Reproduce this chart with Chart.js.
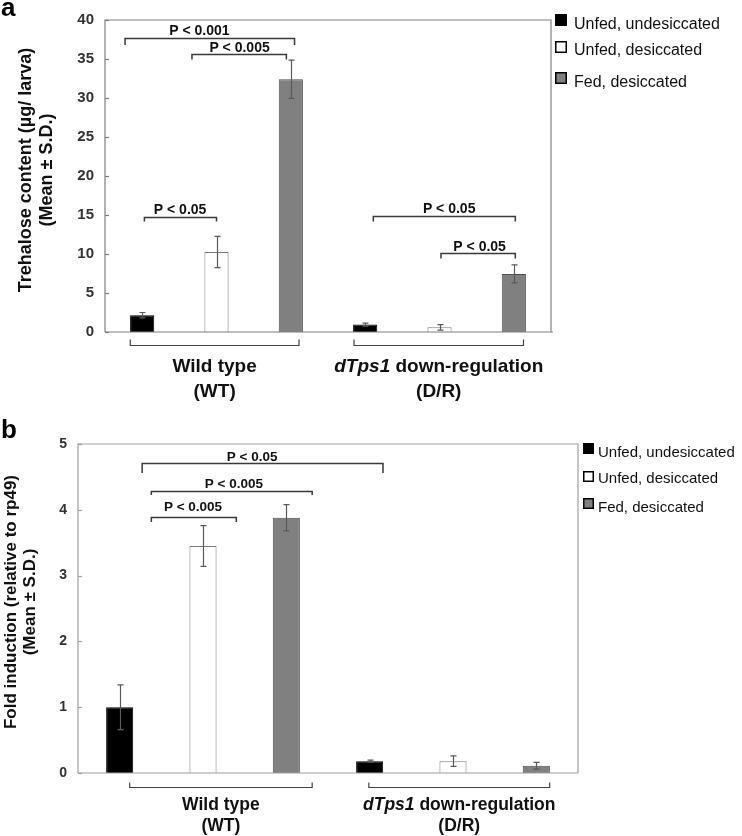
<!DOCTYPE html>
<html lang="en">
<head>
<meta charset="utf-8">
<title>Trehalose content and dTps1 fold induction</title>
<script src="https://cdn.jsdelivr.net/npm/chart.js@4.4.1/dist/chart.umd.min.js"></script>
<style>
    html, body { margin: 0; padding: 0; background: #fff; }
    .figure { width: 742px; height: 836px; }
    canvas { display: block; }
</style>
</head>
<body>
<div class="figure">
    <canvas id="chart-a" width="742" height="410"></canvas>
    <canvas id="chart-b" width="742" height="426"></canvas>
</div>
<script>
// Genotypes and conditions (three bars per genotype)
const groups = ["Wild type", "dTps1 down-regulation"];
const groupTags = ["(WT)", "(D/R)"];
const conditions = ["Unfed, undesiccated", "Unfed, desiccated", "Fed, desiccated"];

// Panel a: trehalose content (µg/larva), order WT x3 then D/R x3
const trehaloseMean = [2.15, 10.25, 32.4, 0.95, 0.6, 7.45];
const trehaloseSD = [0.35, 2.0, 2.45, 0.2, 0.35, 1.15];
const trehaloseTicks = [0, 5, 10, 15, 20, 25, 30, 35, 40];

// Panel b: fold induction relative to rp49
const foldMean = [1.0, 3.45, 3.88, 0.18, 0.18, 0.11];
const foldSD = [0.34, 0.31, 0.2, 0.015, 0.08, 0.05];
const foldTicks = [0, 1, 2, 3, 4, 5];

const FONT = "'Liberation Sans', Arial, Helvetica, sans-serif";
const fillColors = ["#000000", "#ffffff", "#808080"];
const borderColors = ["#000000", "#7a7a7a", "#505050"];

// Category labels: one slot per bar
const slots = [];
groupTags.forEach((tag) => {
    conditions.forEach((c) => slots.push(tag + " " + c));
});

// Draws frame, error bars, brackets, legend and titles
const figureDecor = {
    id: "figureDecor",
    afterDatasetsDraw(chart, args, opts) {
        const ctx = chart.ctx;
        const area = chart.chartArea;
        const xs = chart.scales.x;
        const ys = chart.scales.y;
        ctx.save();

        // plot frame
        ctx.strokeStyle = opts.frameColor;
        ctx.lineWidth = 1.2;
        ctx.beginPath();
        ctx.moveTo(area.left, area.bottom);
        ctx.lineTo(area.left, area.top);
        ctx.lineTo(area.right, area.top);
        ctx.lineTo(area.right, area.bottom);
        ctx.moveTo(area.left, area.bottom);
        ctx.lineTo(area.right + opts.axisOverhang, area.bottom);
        ctx.stroke();

        // inward tick marks
        ys.ticks.forEach((t) => {
            const py = Math.round(ys.getPixelForValue(t.value)) + 0.5;
            ctx.beginPath();
            ctx.moveTo(area.left, py);
            ctx.lineTo(area.left + 4, py);
            ctx.stroke();
        });

        // error bars
        ctx.strokeStyle = "#5a5a5a";
        ctx.lineWidth = 1.2;
        chart.data.datasets.forEach((ds, d) => {
            const meta = chart.getDatasetMeta(d);
            meta.data.forEach((bar, i) => {
                const v = ds.data[i];
                if (v === null || v === undefined) return;
                const err = ds.errors[i];
                const top = ys.getPixelForValue(v + err);
                const bot = ys.getPixelForValue(Math.max(0, v - err));
                const bx = Math.round(bar.x) + 0.5;
                ctx.beginPath();
                ctx.moveTo(bx, top);
                ctx.lineTo(bx, bot);
                ctx.moveTo(bx - 3, top);
                ctx.lineTo(bx + 3, top);
                ctx.moveTo(bx - 3, bot);
                ctx.lineTo(bx + 3, bot);
                ctx.stroke();
            });
        });

        // significance brackets
        ctx.strokeStyle = "#3a3a3a";
        ctx.lineWidth = 1.5;
        ctx.fillStyle = "#111";
        ctx.font = "bold " + opts.pFont + "px " + FONT;
        ctx.textAlign = "center";
        ctx.textBaseline = "alphabetic";
        opts.brackets.forEach((b) => {
            const xa = xs.getPixelForValue(b.from);
            const xb = xs.getPixelForValue(b.to);
            const yy = Math.round(ys.getPixelForValue(b.level)) + 0.5;
            ctx.beginPath();
            ctx.moveTo(xa, yy + b.drop);
            ctx.lineTo(xa, yy);
            ctx.lineTo(xb, yy);
            ctx.lineTo(xb, yy + b.drop);
            ctx.stroke();
            ctx.fillText(b.text, xs.getPixelForValue(b.tx), yy - b.gap);
        });

        // genotype brackets under the axis
        ctx.strokeStyle = "#444";
        ctx.lineWidth = 1.2;
        const gy = Math.round(area.bottom + opts.groupOffset) + 0.5;
        opts.groupSpans.forEach((g, gi) => {
            const xa = xs.getPixelForValue(g.from);
            const xb = xs.getPixelForValue(g.to);
            ctx.beginPath();
            ctx.moveTo(xa, gy - opts.groupTick);
            ctx.lineTo(xa, gy);
            ctx.lineTo(xb, gy);
            ctx.lineTo(xb, gy - opts.groupTick);
            ctx.stroke();

            const cx = (xa + xb) / 2;
            const gf = opts.groupFont;
            ctx.fillStyle = "#111";
            if (gi === 0) {
                ctx.font = "bold " + gf + "px " + FONT;
                ctx.textAlign = "center";
                ctx.fillText(groups[0], cx, opts.groupLine1);
            } else {
                // "dTps1" in bold italic, rest bold
                const gene = "dTps1";
                const rest = groups[1].slice(gene.length);
                ctx.font = "italic bold " + gf + "px " + FONT;
                const w1 = ctx.measureText(gene).width;
                ctx.font = "bold " + gf + "px " + FONT;
                const w2 = ctx.measureText(rest).width;
                const start = cx - (w1 + w2) / 2;
                ctx.textAlign = "left";
                ctx.font = "italic bold " + gf + "px " + FONT;
                ctx.fillText(gene, start, opts.groupLine1);
                ctx.font = "bold " + gf + "px " + FONT;
                ctx.fillText(rest, start + w1, opts.groupLine1);
            }
            ctx.font = "bold " + gf + "px " + FONT;
            ctx.textAlign = "center";
            ctx.fillText(groupTags[gi], cx, opts.groupLine2);
        });

        // y axis title, two rotated lines
        ctx.save();
        ctx.translate(0, opts.titleY);
        ctx.rotate(-Math.PI / 2);
        ctx.font = "bold " + opts.titleFont + "px " + FONT;
        ctx.textAlign = "center";
        ctx.textBaseline = "middle";
        ctx.fillStyle = "#111";
        opts.yTitle.forEach((line, i) => {
            ctx.fillText(line, 0, opts.titleX[i]);
        });
        ctx.restore();

        // legend
        const lg = opts.legend;
        ctx.font = lg.font + "px " + FONT;
        ctx.textAlign = "left";
        ctx.textBaseline = "alphabetic";
        conditions.forEach((c, i) => {
            ctx.fillStyle = fillColors[i];
            ctx.fillRect(lg.boxX, lg.boxY[i], lg.box, lg.box);
            ctx.strokeStyle = "#000";
            ctx.lineWidth = 1.5;
            ctx.strokeRect(lg.boxX + 0.75, lg.boxY[i] + 0.75, lg.box - 1.5, lg.box - 1.5);
            ctx.fillStyle = "#111";
            ctx.fillText(c, lg.textX, lg.baseY[i]);
        });

        // panel letter
        ctx.font = "bold 26px " + FONT;
        ctx.fillStyle = "#000";
        ctx.fillText(opts.letter, 1, opts.letterY);

        ctx.restore();
    },
};

function buildPanel(canvasId, mean, sd, ticks, panel) {
    const ctx = document.getElementById(canvasId).getContext("2d");

    // one dataset per condition, each filling only its own slots
    const datasets = conditions.map((c, s) => ({
        label: c,
        data: mean.map((v, i) => (i % 3 === s ? v : null)),
        errors: sd,
        backgroundColor: fillColors[s],
        borderColor: borderColors[s],
        borderWidth: 1,
        grouped: false,
        barPercentage: 0.325,
        categoryPercentage: 1,
    }));

    return new Chart(ctx, {
        type: "bar",
        data: { labels: slots, datasets: datasets },
        options: {
            responsive: false,
            animation: false,
            devicePixelRatio: 1,
            layout: { padding: panel.padding },
            plugins: {
                legend: { display: false },
                tooltip: { enabled: false },
                figureDecor: panel,
            },
            scales: {
                x: { display: false },
                y: {
                    min: ticks[0],
                    max: ticks[ticks.length - 1],
                    afterBuildTicks: (scale) => {
                        scale.ticks = ticks.map((v) => ({ value: v }));
                    },
                    afterFit: (scale) => {
                        scale.width = 30;
                    },
                    grid: { display: false, drawTicks: false },
                    border: { display: false },
                    ticks: {
                        padding: 11,
                        color: "#333",
                        font: { family: FONT, size: panel.tickFont, weight: "bold" },
                    },
                },
            },
        },
        plugins: [figureDecor],
    });
}

document.addEventListener("DOMContentLoaded", function () {
    buildPanel("chart-a", trehaloseMean, trehaloseSD, trehaloseTicks, {
        letter: "a",
        letterY: 16,
        padding: { left: 75, top: 13, right: 191, bottom: 78 },
        frameColor: "#808080",
        axisOverhang: 2,
        tickFont: 15,
        pFont: 14,
        brackets: [
            { text: "P < 0.001", from: -0.23, to: 2.05, level: 37.66, drop: 6.5, tx: 0.77, gap: 4 },
            { text: "P < 0.005", from: 0.67, to: 1.94, level: 35.59, drop: 5, tx: 1.31, gap: 2.5 },
            { text: "P < 0.05", from: 0.03, to: 1.0, level: 14.75, drop: 4, tx: 0.51, gap: 4 },
            { text: "P < 0.05", from: 3.11, to: 5.02, level: 14.875, drop: 5, tx: 4.13, gap: 4 },
            { text: "P < 0.05", from: 4.02, to: 5.02, level: 10.125, drop: 5, tx: 4.54, gap: 3 },
        ],
        groupSpans: [{ from: -0.16, to: 2.11 }, { from: 2.85, to: 5.13 }],
        groupOffset: 13,
        groupTick: 6,
        groupFont: 19,
        groupLine1: 372,
        groupLine2: 396.5,
        yTitle: ["Trehalose content (µg/ larva)", "(Mean ± S.D.)"],
        titleFont: 18,
        titleX: [26, 47],
        titleY: 170,
        legend: { font: 16, box: 12, boxX: 555, boxY: [14, 41, 72], textX: 574, baseY: [29, 55, 87] },
    });

    buildPanel("chart-b", foldMean, foldSD, foldTicks, {
        letter: "b",
        letterY: 28,
        padding: { left: 48, top: 34, right: 164, bottom: 63 },
        frameColor: "#a0a0a0",
        axisOverhang: 0,
        tickFont: 14,
        pFont: 13.5,
        brackets: [
            { text: "P < 0.05", from: 0.27, to: 3.16, level: 4.716, drop: 9.5, tx: 1.59, gap: 3 },
            { text: "P < 0.005", from: 0.38, to: 2.31, level: 4.29, drop: 3.5, tx: 1.37, gap: 4 },
            { text: "P < 0.005", from: 0.38, to: 1.4, level: 3.886, drop: 4.5, tx: 0.88, gap: 7 },
        ],
        groupSpans: [{ from: 0.12, to: 2.31 }, { from: 2.99, to: 5.16 }],
        groupOffset: 13.7,
        groupTick: 5,
        groupFont: 17.5,
        groupLine1: 400,
        groupLine2: 420.5,
        yTitle: ["Fold induction (relative to rp49)", "(Mean ± S.D.)"],
        titleFont: 17,
        titleX: [11, 30],
        titleY: 192,
        legend: { font: 15, box: 11, boxX: 583, boxY: [33, 61, 88], textX: 598, baseY: [47, 73, 102] },
    });
});
</script>
</body>
</html>
